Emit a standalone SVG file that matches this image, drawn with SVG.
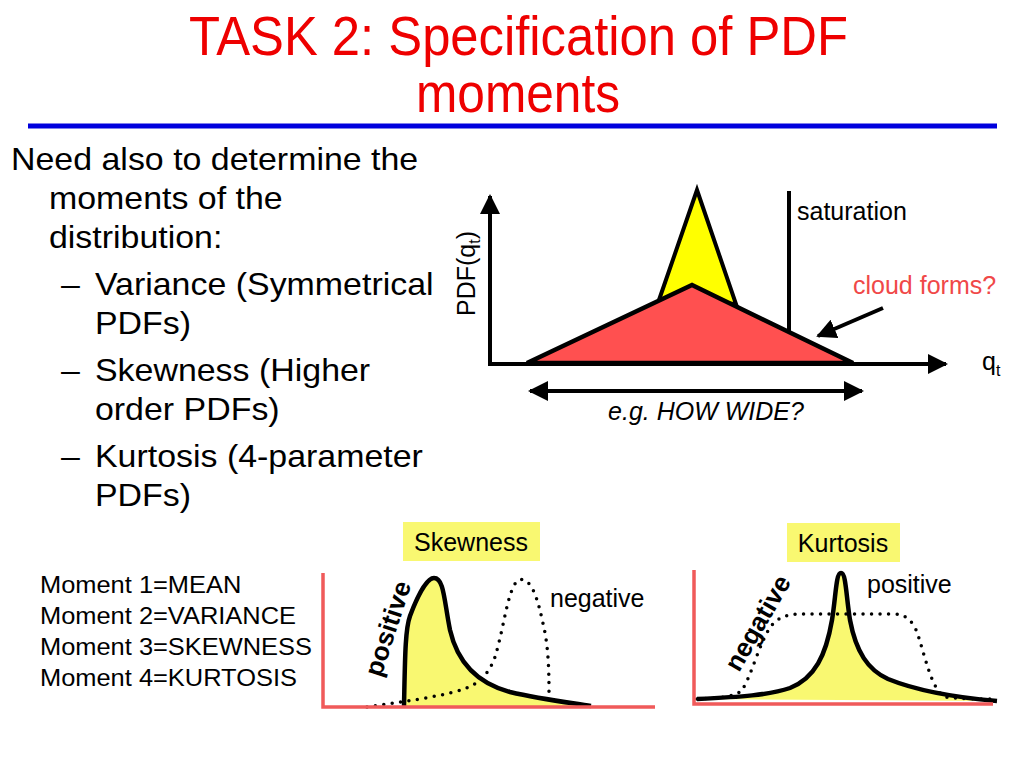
<svg xmlns="http://www.w3.org/2000/svg" width="1024" height="768" viewBox="0 0 1024 768">
<defs>
<style>
text{font-family:"Liberation Sans",Arial,sans-serif;fill:#000}
.title{fill:#ee0000;font-size:55px}
.body{font-size:32px}
.mom{font-size:24px}
.lbl{font-size:25px}
.bold{font-weight:bold;font-size:26px}
.ax{stroke:#000;stroke-width:4;fill:none}
.rax{stroke:#f05a5a;stroke-width:3.5;fill:none}
.curve{stroke:#000;stroke-width:4.5;fill:#f9f871;stroke-linejoin:round}
.dots{stroke:#000;stroke-width:3.5;fill:none;stroke-dasharray:0 8.5;stroke-linecap:round}
.box{fill:#f9f871}
</style>
<marker id="ah" viewBox="0 0 10 10" refX="9" refY="5" markerWidth="5" markerHeight="5" orient="auto-start-reverse" markerUnits="strokeWidth">
<path d="M0,0 L10,5 L0,10 z" fill="#000"/>
</marker>
</defs>
<rect width="1024" height="768" fill="#fff"/>

<g id="title">
<text class="title" x="189" y="55" textLength="659" lengthAdjust="spacingAndGlyphs">TASK 2: Specification of PDF</text>
<text class="title" x="416" y="112" textLength="204" lengthAdjust="spacingAndGlyphs">moments</text>
<line x1="28" y1="126" x2="997" y2="126" stroke="#0000dd" stroke-width="5"/>
</g>

<g id="bullets" transform="scale(1.06,1)">
<text class="body" x="10.4" y="170">Need also to determine the</text>
<text class="body" x="46.2" y="209">moments of the</text>
<text class="body" x="46.2" y="248">distribution:</text>
<text class="body" x="57.5" y="295">–</text>
<text class="body" x="89.6" y="295">Variance (Symmetrical</text>
<text class="body" x="89.6" y="334">PDFs)</text>
<text class="body" x="57.5" y="381">–</text>
<text class="body" x="89.6" y="381">Skewness (Higher</text>
<text class="body" x="89.6" y="420">order PDFs)</text>
<text class="body" x="57.5" y="467">–</text>
<text class="body" x="89.6" y="467">Kurtosis (4-parameter</text>
<text class="body" x="89.6" y="506">PDFs)</text>
</g>

<g id="moments" transform="scale(1.06,1)">
<text class="mom" x="37.7" y="593">Moment 1=MEAN</text>
<text class="mom" x="37.7" y="624">Moment 2=VARIANCE</text>
<text class="mom" x="37.7" y="655">Moment 3=SKEWNESS</text>
<text class="mom" x="37.7" y="686">Moment 4=KURTOSIS</text>
</g>

<g id="pdf-chart">
<polygon points="659,300 697,190 736,304" fill="#ffff00" stroke="#000" stroke-width="4" stroke-linejoin="miter"/>
<polygon points="527,363 692,285 853,363" fill="#ff5050" stroke="#000" stroke-width="4.5" stroke-linejoin="miter"/>
<line x1="789" y1="191" x2="789" y2="331" stroke="#000" stroke-width="4"/>
<text class="lbl" x="797" y="220">saturation</text>
<text class="lbl" x="853" y="294" style="fill:#f04848">cloud forms?</text>
<text class="lbl" x="982" y="370">q<tspan font-size="16" dy="6">t</tspan></text>
<text class="lbl" x="706" y="420" text-anchor="middle" font-style="italic" font-size="26">e.g. HOW WIDE?</text>
<text class="lbl" font-size="24" transform="translate(475,316) rotate(-90)">PDF(q<tspan font-size="16" dy="5">t</tspan><tspan dy="-5">)</tspan></text>
</g>

<g id="connectors">
<line class="ax" x1="490" y1="364" x2="490" y2="196" marker-end="url(#ah)"/>
<line class="ax" x1="488" y1="364" x2="946" y2="364" marker-end="url(#ah)"/>
<line class="ax" x1="883" y1="308" x2="818" y2="336" marker-end="url(#ah)"/>
<line class="ax" x1="530" y1="391" x2="862" y2="391" marker-start="url(#ah)" marker-end="url(#ah)"/>
</g>

<g id="skewness">
<rect class="box" x="403" y="522" width="137" height="39"/>
<text class="lbl" x="471" y="551" text-anchor="middle">Skewness</text>
<path class="curve" d="M404,706 C405,660 405,630 410,616 C416,600 426,578 434,578 C444,578 444,600 450,630 C458,665 480,684 510,692 C540,699 565,702 591,706"/>
<path class="dots" d="M367,707 C385,704 420,700 450,693 C470,688 484,683 494,660 C504,630 507,590 518,580 C532,576 538,600 544,628 C549,650 549,680 549,694"/>
<polyline class="rax" points="323,573 323,707 655,707"/>
<text class="bold" transform="translate(381,678) rotate(-72)">positive</text>
<text class="lbl" x="550" y="607">negative</text>
</g>

<g id="kurtosis">
<rect class="box" x="787" y="523" width="113" height="39"/>
<text class="lbl" x="843" y="552" text-anchor="middle">Kurtosis</text>
<path class="curve" d="M697,699 C740,697 770,695 790,688 C815,678 826,655 832,620 C836,595 836,573 841,573 C846,573 846,595 850,620 C856,652 868,670 888,679 C915,690 950,697 997,701"/>
<path class="dots" d="M697,699 C720,698 735,697 742,690 C752,675 760,640 772,625 C780,616 790,614 800,614 L893,614 C905,614 913,620 918,635 C926,660 932,690 945,697 C960,699 980,699 997,699"/>
<polyline class="rax" points="694,570 694,704 993,704"/>
<text class="bold" transform="translate(739,673) rotate(-60)">negative</text>
<text class="lbl" x="867" y="593">positive</text>
</g>
</svg>
